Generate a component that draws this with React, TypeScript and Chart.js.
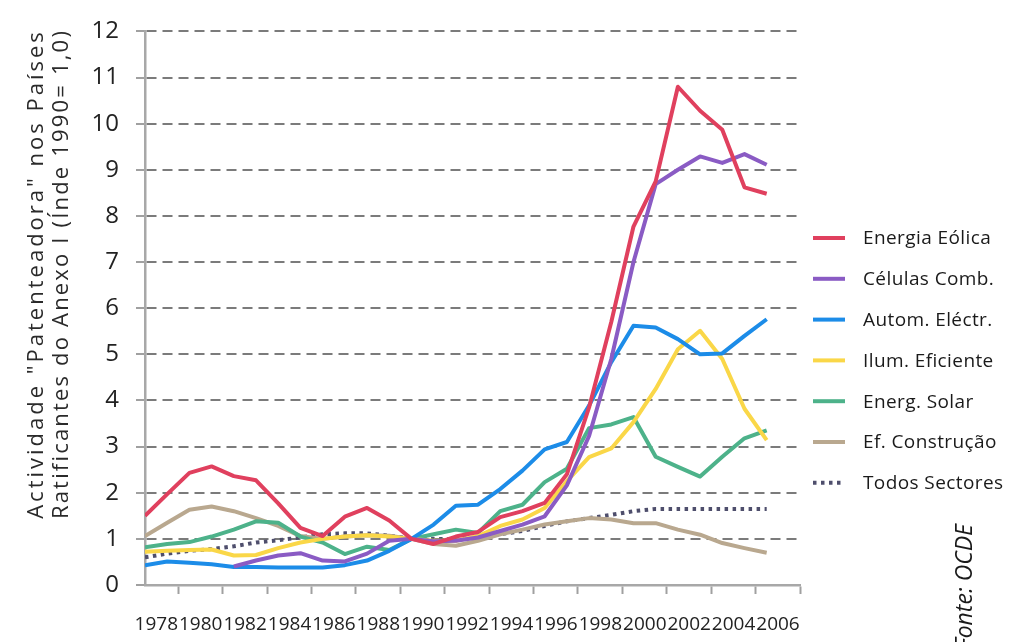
import React, { useEffect, useRef } from 'react';
import { Chart, registerables } from 'chart.js';

Chart.register(...registerables);

const years = [1978, 1979, 1980, 1981, 1982, 1983, 1984, 1985, 1986, 1987, 1988, 1989, 1990, 1991, 1992, 1993, 1994, 1995, 1996, 1997, 1998, 1999, 2000, 2001, 2002, 2003, 2004, 2005, 2006];
const xTickLabels = ['1978', '1980', '1982', '1984', '1986', '1988', '1990', '1992', '1994', '1996', '1998', '2000', '2002', '2004', '2006'];

const seriesNames = ['Energia Eólica', 'Células Comb.', 'Autom. Eléctr.', 'Ilum. Eficiente', 'Energ. Solar', 'Ef. Construção', 'Todos Sectores'];

const energiaEolica = [1.5, 1.97, 2.43, 2.57, 2.36, 2.27, 1.77, 1.24, 1.06, 1.48, 1.67, 1.4, 1.0, 0.89, 1.05, 1.15, 1.47, 1.6, 1.78, 2.4, 3.85, 5.7, 7.77, 8.75, 10.8, 10.28, 9.87, 8.62, 8.48];
const celulasComb = [null, null, null, null, 0.4, 0.53, 0.64, 0.69, 0.53, 0.51, 0.68, 0.96, 1.0, 0.95, 0.96, 1.03, 1.17, 1.31, 1.49, 2.16, 3.23, 4.9, 7.0, 8.69, 9.0, 9.29, 9.15, 9.34, 9.11];
const automElectr = [0.43, 0.51, 0.48, 0.45, 0.39, 0.39, 0.38, 0.38, 0.38, 0.43, 0.53, 0.74, 1.0, 1.31, 1.72, 1.74, 2.08, 2.48, 2.94, 3.1, 3.89, 4.83, 5.62, 5.58, 5.33, 5.0, 5.02, 5.4, 5.76];
const ilumEficiente = [0.72, 0.74, 0.76, 0.77, 0.64, 0.65, 0.8, 0.92, 1.0, 1.05, 1.08, 1.05, 1.0, 0.96, 0.96, 1.06, 1.28, 1.42, 1.67, 2.25, 2.77, 2.96, 3.53, 4.25, 5.11, 5.51, 4.9, 3.82, 3.14];
const energSolar = [0.82, 0.89, 0.93, 1.05, 1.2, 1.38, 1.35, 1.05, 0.92, 0.67, 0.83, 0.76, 1.0, 1.1, 1.2, 1.13, 1.6, 1.74, 2.23, 2.52, 3.4, 3.48, 3.64, 2.78, 2.56, 2.35, 2.78, 3.18, 3.35];
const efConstrucao = [1.06, 1.35, 1.63, 1.7, 1.6, 1.45, 1.28, 1.06, 1.0, 1.05, 1.08, 1.07, 1.0, 0.89, 0.85, 0.96, 1.1, 1.2, 1.31, 1.38, 1.45, 1.42, 1.34, 1.34, 1.2, 1.09, 0.91, 0.8, 0.7];
const todosSectores = [0.6, 0.68, 0.74, 0.78, 0.84, 0.92, 0.97, 1.03, 1.1, 1.12, 1.12, 1.07, 1.0, 1.0, 0.99, 1.03, 1.1, 1.17, 1.28, 1.38, 1.45, 1.52, 1.6, 1.65, 1.65, 1.65, 1.65, 1.65, 1.65];

const seriesValues = [energiaEolica, celulasComb, automElectr, ilumEficiente, energSolar, efConstrucao, todosSectores];
const seriesColors = ['#E0405E', '#8A5BC4', '#1C8CE8', '#FAD748', '#4DB28A', '#B9A88F', '#4E4E6C'];

const yTitleLines = ['Actividade "Patenteadora" nos Países', 'Ratificantes do Anexo I (Índe 1990= 1,0)'];
const sourceText = 'Fonte: OCDE';

const FONT = '"Open Sans", "Noto Sans", sans-serif';

const decorPlugin = {
  id: 'decor',
  afterDraw(chart: any) {
    const ctx: CanvasRenderingContext2D = chart.ctx;
    // legend
    ctx.save();
    chart.data.datasets.forEach((ds: any, i: number) => {
      const y = 238 + i * 40.8;
      ctx.beginPath();
      ctx.strokeStyle = ds.borderColor;
      ctx.lineWidth = 4;
      ctx.lineCap = 'butt';
      ctx.setLineDash(ds.borderDash || []);
      ctx.moveTo(813, y);
      ctx.lineTo(845, y);
      ctx.stroke();
      ctx.setLineDash([]);
      ctx.fillStyle = '#1a1a1a';
      ctx.font = '19px ' + FONT;
      (ctx as any).letterSpacing = '0.4px';
      ctx.textBaseline = 'middle';
      ctx.textAlign = 'left';
      ctx.fillText(ds.label, 863, y + 1);
    });
    ctx.restore();

    // y title
    ctx.save();
    ctx.fillStyle = '#2a2a2a';
    ctx.font = '22px ' + FONT;
    ctx.textAlign = 'center';
    ctx.textBaseline = 'alphabetic';
    const baselines = [43, 68];
    yTitleLines.forEach((line, i) => {
      (ctx as any).letterSpacing = '0px';
      const w = ctx.measureText(line).width;
      const ls = Math.max(0, Math.min(3, (490 - w) / line.length));
      (ctx as any).letterSpacing = ls.toFixed(2) + 'px';
      ctx.save();
      ctx.translate(baselines[i], 274);
      ctx.rotate(-Math.PI / 2);
      ctx.fillText(line, 0, 0);
      ctx.restore();
    });
    ctx.restore();

    // source
    ctx.save();
    ctx.fillStyle = '#1a1a1a';
    ctx.font = 'italic 23px ' + FONT;
    ctx.textAlign = 'right';
    ctx.textBaseline = 'alphabetic';
    ctx.translate(972, 524);
    ctx.rotate(-Math.PI / 2);
    ctx.fillText(sourceText, 0, 0);
    ctx.restore();
  },
};

export default function App() {
  const ref = useRef<HTMLCanvasElement>(null);

  useEffect(() => {
    if (!ref.current) return;
    const datasets = seriesNames.map((name, i) => {
      const isDotted = i === seriesNames.length - 1;
      return {
        label: name,
        data: years.map((yr, k) => ({ x: yr, y: seriesValues[i][k] })),
        borderColor: seriesColors[i],
        backgroundColor: seriesColors[i],
        borderWidth: 4,
        borderDash: isDotted ? [3.5, 4.5] : [],
        borderCapStyle: 'butt',
        borderJoinStyle: 'round',
        pointRadius: 0,
        tension: 0,
        spanGaps: false,
      };
    });

    const chart = new Chart(ref.current, {
      type: 'line',
      data: { datasets } as any,
      options: {
        responsive: false,
        animation: false,
        devicePixelRatio: 1,
        layout: { padding: { left: 0, top: 21, right: 229, bottom: 0 } },
        plugins: { legend: { display: false }, tooltip: { enabled: false } },
        scales: {
          x: {
            type: 'linear',
            min: 1978,
            max: 2007.5,
            afterBuildTicks: (scale: any) => {
              scale.ticks = xTickLabels.map((_, i) => ({ value: 1979.5 + 2 * i }));
            },
            afterFit: (scale: any) => {
              scale.height = 57;
            },
            grid: {
              display: true,
              drawOnChartArea: false,
              drawTicks: true,
              tickLength: 9,
              tickWidth: 2,
              tickColor: '#a0a0a0',
              color: '#a0a0a0',
            },
            border: { display: true, color: '#a8a8a8', width: 2.5 },
            ticks: {
              autoSkip: false,
              maxRotation: 0,
              minRotation: 0,
              labelOffset: -22,
              padding: 19,
              color: '#222',
              font: { family: FONT, size: 19 },
              callback: (_v: any, idx: number) => xTickLabels[idx],
            },
          },
          y: {
            type: 'linear',
            min: 0,
            max: 12,
            afterFit: (scale: any) => {
              scale.width = 145;
            },
            grid: {
              color: '#7b7b7b',
              lineWidth: 2,
              drawTicks: true,
              tickLength: 9,
              tickWidth: 2,
              tickColor: '#a0a0a0',
            },
            border: { display: true, color: '#a8a8a8', width: 2.5, dash: [10, 6] },
            ticks: {
              stepSize: 1,
              padding: 17,
              color: '#222',
              font: { family: FONT, size: 24 },
            },
          },
        },
      } as any,
      plugins: [decorPlugin],
    });
    return () => chart.destroy();
  }, []);

  return (
    <div style={{ position: 'absolute', left: 0, top: 0, width: 1029, height: 642, background: '#fff' }}>
      <canvas ref={ref} width={1029} height={642} style={{ display: 'block' }} />
    </div>
  );
}
